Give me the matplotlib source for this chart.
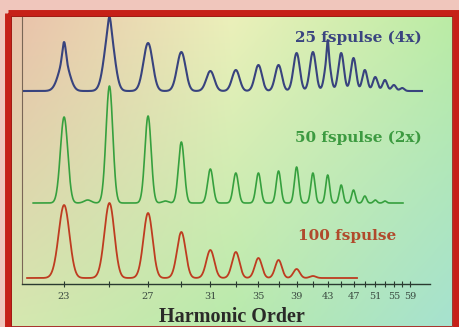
import numpy as np
import matplotlib.pyplot as plt
from matplotlib.patches import Rectangle
from matplotlib.ticker import FixedLocator, NullFormatter

# peak heights (arbitrary units) at each harmonic order
orders_25fs = [23, 25, 27, 29, 31, 33, 35, 37, 39, 41, 43, 45, 47, 49, 51, 53, 55, 57]
heights_25fs = [30, 62, 48, 39, 20, 21, 26, 26, 38, 39, 34, 38, 33, 21, 14, 11, 6, 3]
# narrow spikes riding on top of some of the 25 fs peaks (extra height)
spike_orders_25fs = [23, 25, 43]
spike_heights_25fs = [19, 12, 17]

orders_50fs = [23, 24, 25, 27, 28, 29, 31, 33, 35, 37, 39, 41, 43, 45, 47, 49, 51, 53]
heights_50fs = [86, 3, 117, 87, 2, 61, 34, 30, 30, 32, 36, 30, 28, 18, 13, 7, 3, 2]

orders_100fs = [23, 25, 27, 29, 31, 33, 35, 37, 39, 41]
heights_100fs = [73, 75, 65, 46, 28, 26, 20, 18, 9, 2]

# vertical offsets of the stacked traces and their order ranges
base_25fs, base_50fs, base_100fs = 193, 81, 6
span_25fs = (21.41, 62.4)
span_50fs = (21.81, 57.2)
span_100fs = (21.59, 47.6)

tick_orders = list(range(23, 60, 2))
label_orders = list(range(23, 60, 4))


def spectrum(q, orders, heights, rel_width):
    y = np.zeros_like(q)
    for o, h in zip(orders, heights):
        s = rel_width * o
        y += h * np.exp(-0.5 * ((q - o) / s) ** 2)
    return y


def fwd(q):
    q = np.asarray(q, dtype=float)
    with np.errstate(divide='ignore', invalid='ignore'):
        return -1.0 / q


def inv(v):
    v = np.asarray(v, dtype=float)
    with np.errstate(divide='ignore', invalid='ignore'):
        return -1.0 / v


W, H = 460, 327
fig = plt.figure(figsize=(W / 100, H / 100), dpi=100, facecolor='#f0c6bc')

# background gradient and red frame
bg = fig.add_axes([0, 0, 1, 1])
bg.set_xlim(0, W)
bg.set_ylim(H, 0)
bg.axis('off')
top = np.array([[234, 192, 170], [236, 240, 186], [186, 236, 164]]) / 255
bot = np.array([[214, 232, 176], [184, 234, 172], [166, 226, 208]]) / 255
nx, ny = 200, 140
xs = np.linspace(0, 2, nx)
grad = np.zeros((ny, nx, 3))
for c in range(3):
    rt = np.interp(xs, [0, 1, 2], top[:, c])
    rb = np.interp(xs, [0, 1, 2], bot[:, c])
    t = np.linspace(0, 1, ny)[:, None]
    grad[:, :, c] = rt[None, :] * (1 - t) + rb[None, :] * t
bg.imshow(grad, extent=(8, 456, 326, 12), aspect='auto', interpolation='bilinear')
bg.add_patch(Rectangle((8, 12.5), 448, 316, fill=False, ec='#c62018', lw=5))
bg.add_patch(Rectangle((11.5, 16), 441, 310, fill=False, ec='#9a1a14', lw=0.6))

ax = fig.add_axes([22 / W, 1 - 284 / H, 408 / W, 267 / H])
ax.patch.set_alpha(0)
ax.set_xscale('function', functions=(fwd, inv))
ax.set_xlim(21.41, 64.9)
ax.set_ylim(0, 267)

q = np.linspace(*span_25fs, 3000)
y = base_25fs + spectrum(q, orders_25fs, heights_25fs, 0.0095) \
    + spectrum(q, spike_orders_25fs, spike_heights_25fs, 0.003)
ax.plot(q, y, color='#38437e', lw=1.5)

q = np.linspace(*span_50fs, 3000)
ax.plot(q, base_50fs + spectrum(q, orders_50fs, heights_50fs, 0.0065),
        color='#36a03e', lw=1.2)

q = np.linspace(*span_100fs, 3000)
ax.plot(q, base_100fs + spectrum(q, orders_100fs, heights_100fs, 0.0095),
        color='#be3c20', lw=1.3)

for s in ['top', 'right']:
    ax.spines[s].set_visible(False)
ax.spines['left'].set_color('#7a6656')
ax.spines['left'].set_linewidth(0.8)
ax.spines['bottom'].set_color('#2a3a30')
ax.spines['bottom'].set_linewidth(1.0)
ax.set_yticks([])
ax.xaxis.set_major_locator(FixedLocator(label_orders))
ax.xaxis.set_minor_locator(FixedLocator([o for o in tick_orders if o not in label_orders]))
ax.xaxis.set_minor_formatter(NullFormatter())
ax.set_xticklabels([str(o) for o in label_orders])
ax.tick_params(axis='x', which='both', direction='inout', length=5, width=0.8,
               color='#2a3a30', labelsize=7, labelcolor='#3a4a40', pad=3)
for lab in ax.get_xticklabels():
    lab.set_family('DejaVu Serif')

fig.text(232 / W, 1 - 317 / H, 'Harmonic Order', ha='center', va='center',
         fontsize=14.5, family='Liberation Serif', weight='bold', color='#2a2a28')
fig.text(295 / W, 1 - 38 / H, '25 fspulse (4x)', ha='left', va='center',
         fontsize=11, family='DejaVu Serif', weight='bold', color='#3a4480')
fig.text(295 / W, 1 - 138 / H, '50 fspulse (2x)', ha='left', va='center',
         fontsize=11, family='DejaVu Serif', weight='bold', color='#3c9a40')
fig.text(298 / W, 1 - 236 / H, '100 fspulse', ha='left', va='center',
         fontsize=11, family='DejaVu Serif', weight='bold', color='#b04a2c')

fig.savefig('out.png', dpi=100, facecolor=fig.get_facecolor())
